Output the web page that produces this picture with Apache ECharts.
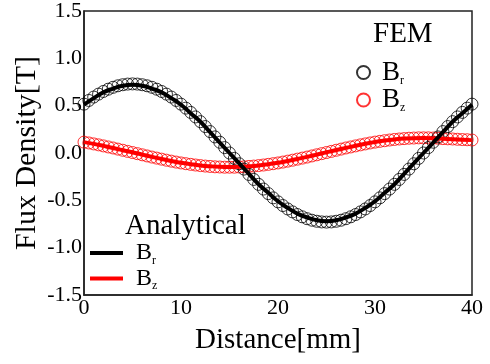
<!DOCTYPE html>
<html>
<head>
<meta charset="utf-8">
<script src="https://cdn.jsdelivr.net/npm/echarts@6/dist/echarts.min.js"></script>
<style>
  html, body { margin: 0; padding: 0; background: #fff; }
  #chart { width: 490px; height: 364px; }
</style>
</head>
<body>
<div id="chart"></div>
<script>
// distance [mm]
const analyticalX = [0,1,2,3,4,5,6,7,8,9,10,11,12,13,14,15,16,17,18,19,20,21,22,23,24,25,26,27,28,29,30,31,32,33,34,35,36,37,38,39,40];
const femX = [0,0.5,1,1.5,2,2.5,3,3.5,4,4.5,5,5.5,6,6.5,7,7.5,8,8.5,9,9.5,10,10.5,11,11.5,12,12.5,13,13.5,14,14.5,15,15.5,16,16.5,17,17.5,18,18.5,19,19.5,20,20.5,21,21.5,22,22.5,23,23.5,24,24.5,25,25.5,26,26.5,27,27.5,28,28.5,29,29.5,30,30.5,31,31.5,32,32.5,33,33.5,34,34.5,35,35.5,36,36.5,37,37.5,38,38.5,39,39.5,40];

// analytical [T]
const analyticalBr = [0.51,0.58,0.64,0.68,0.71,0.72,0.71,0.68,0.64,0.58,0.51,0.42,0.33,0.22,0.11,0.00,-0.11,-0.22,-0.33,-0.42,-0.51,-0.58,-0.64,-0.68,-0.71,-0.72,-0.71,-0.68,-0.64,-0.58,-0.51,-0.42,-0.33,-0.22,-0.11,0.00,0.11,0.22,0.33,0.42,0.51];
const analyticalBz = [0.115,0.096,0.075,0.053,0.029,0.008,-0.017,-0.041,-0.063,-0.084,-0.103,-0.118,-0.131,-0.140,-0.146,-0.148,-0.146,-0.140,-0.131,-0.118,-0.103,-0.084,-0.063,-0.041,-0.017,0.008,0.031,0.054,0.076,0.097,0.116,0.131,0.143,0.152,0.157,0.158,0.156,0.151,0.146,0.141,0.136];

// FEM [T]
const femBr = [0.516,0.555,0.591,0.622,0.650,0.674,0.694,0.710,0.721,0.728,0.730,0.728,0.721,0.710,0.694,0.674,0.650,0.622,0.591,0.555,0.516,0.474,0.429,0.381,0.331,0.279,0.226,0.170,0.114,0.057,0.000,-0.057,-0.114,-0.170,-0.226,-0.279,-0.331,-0.381,-0.429,-0.474,-0.516,-0.555,-0.591,-0.622,-0.650,-0.674,-0.694,-0.710,-0.721,-0.728,-0.730,-0.728,-0.721,-0.710,-0.694,-0.674,-0.650,-0.622,-0.591,-0.555,-0.516,-0.474,-0.429,-0.381,-0.331,-0.279,-0.226,-0.170,-0.114,-0.057,0.000,0.057,0.114,0.170,0.226,0.279,0.331,0.381,0.429,0.474,0.516];
const femBz = [0.115,0.106,0.096,0.086,0.075,0.064,0.053,0.041,0.029,0.017,0.005,-0.007,-0.019,-0.031,-0.043,-0.054,-0.065,-0.076,-0.086,-0.096,-0.105,-0.113,-0.120,-0.127,-0.133,-0.138,-0.142,-0.146,-0.148,-0.150,-0.150,-0.150,-0.148,-0.146,-0.142,-0.138,-0.133,-0.127,-0.120,-0.113,-0.105,-0.096,-0.086,-0.076,-0.065,-0.054,-0.043,-0.031,-0.019,-0.007,0.005,0.017,0.029,0.041,0.053,0.064,0.075,0.086,0.096,0.106,0.115,0.123,0.130,0.137,0.143,0.148,0.152,0.156,0.158,0.160,0.160,0.160,0.158,0.156,0.152,0.150,0.148,0.145,0.142,0.140,0.137];

const serif = '"Liberation Serif", "DejaVu Serif", serif';
const pairs = (xs, ys) => xs.map((x, i) => [x, ys[i]]);

const richFor = (big, small, lh) => ({
  b: { fontFamily: serif, fontSize: big, color: '#000', lineHeight: lh, verticalAlign: 'middle' },
  s: { fontFamily: serif, fontSize: small, color: '#000', lineHeight: small, verticalAlign: 'bottom' },
});
const subName = (name) => '{b|B}{s|' + (name.indexOf('Bz') === 0 ? 'z' : 'r') + '}';

const chart = echarts.init(document.getElementById('chart'));

chart.setOption({
  animation: false,
  backgroundColor: '#fff',
  title: [
    { text: 'FEM', left: 368, top: 15, textStyle: { fontFamily: serif, fontSize: 29, fontWeight: 'normal', color: '#000' } },
    { text: 'Analytical', left: 120, top: 207, textStyle: { fontFamily: serif, fontSize: 29, fontWeight: 'normal', color: '#000' } },
  ],
  legend: [
    {
      data: ['Br FEM', 'Bz FEM'],
      orient: 'vertical',
      left: 356,
      top: 59,
      padding: 0,
      icon: 'circle',
      itemWidth: 13,
      itemHeight: 13,
      itemGap: 0,
      selectedMode: false,
      formatter: subName,
      textStyle: { rich: richFor(27, 12, 28), padding: [0, 0, 0, 7] },
    },
    {
      data: ['Br Analytical', 'Bz Analytical'],
      orient: 'vertical',
      left: 90,
      top: 241,
      padding: 0,
      icon: 'rect',
      itemWidth: 33,
      itemHeight: 4,
      itemGap: 0,
      selectedMode: false,
      formatter: subName,
      textStyle: { rich: richFor(24, 12, 27), padding: [0, 0, 0, 8] },
    },
  ],
  grid: { left: 84, right: 18, top: 11, bottom: 69, outerBoundsMode: 'none', containLabel: false, show: true, borderColor: '#222', borderWidth: 1.5, backgroundColor: 'transparent' },
  xAxis: {
    type: 'value',
    min: 0,
    max: 40,
    interval: 10,
    name: 'Distance[mm]',
    nameLocation: 'middle',
    nameGap: 31,
    nameMoveOverlap: false,
    nameTextStyle: { fontFamily: serif, fontSize: 29, color: '#000' },
    axisLine: { show: true, onZero: false, lineStyle: { color: '#222', width: 1.5 } },
    axisTick: { show: false },
    splitLine: { show: false },
    axisLabel: { fontFamily: serif, fontSize: 22, color: '#000', margin: 2 },
  },
  yAxis: {
    type: 'value',
    min: -1.5,
    max: 1.5,
    interval: 0.5,
    name: 'Flux Density[T]',
    nameLocation: 'middle',
    nameGap: 42,
    nameMoveOverlap: false,
    nameTextStyle: { fontFamily: serif, fontSize: 30, color: '#000' },
    axisLine: { show: true, onZero: false, lineStyle: { color: '#222', width: 1.5 } },
    axisTick: { show: false },
    splitLine: { show: false },
    axisLabel: { fontFamily: serif, fontSize: 22, color: '#000', margin: 2, formatter: (v) => v.toFixed(1) },
  },
  series: [
    {
      name: 'Bz FEM',
      type: 'scatter',
      data: pairs(femX, femBz),
      symbol: 'circle',
      symbolSize: 12,
      itemStyle: { color: 'transparent', borderColor: '#ff0000', borderWidth: 1 },
      z: 2,
    },
    {
      name: 'Br FEM',
      type: 'scatter',
      data: pairs(femX, femBr),
      symbol: 'circle',
      symbolSize: 12,
      itemStyle: { color: 'transparent', borderColor: '#000', borderWidth: 1 },
      z: 3,
    },
    {
      name: 'Bz Analytical',
      type: 'line',
      data: pairs(analyticalX, analyticalBz),
      smooth: true,
      showSymbol: false,
      lineStyle: { color: '#ff0000', width: 4 },
      itemStyle: { color: '#ff0000' },
      z: 4,
    },
    {
      name: 'Br Analytical',
      type: 'line',
      data: pairs(analyticalX, analyticalBr),
      smooth: true,
      showSymbol: false,
      lineStyle: { color: '#000', width: 4 },
      itemStyle: { color: '#000' },
      z: 5,
    },
  ],
});

window.addEventListener('resize', () => chart.resize());
</script>
</body>
</html>
